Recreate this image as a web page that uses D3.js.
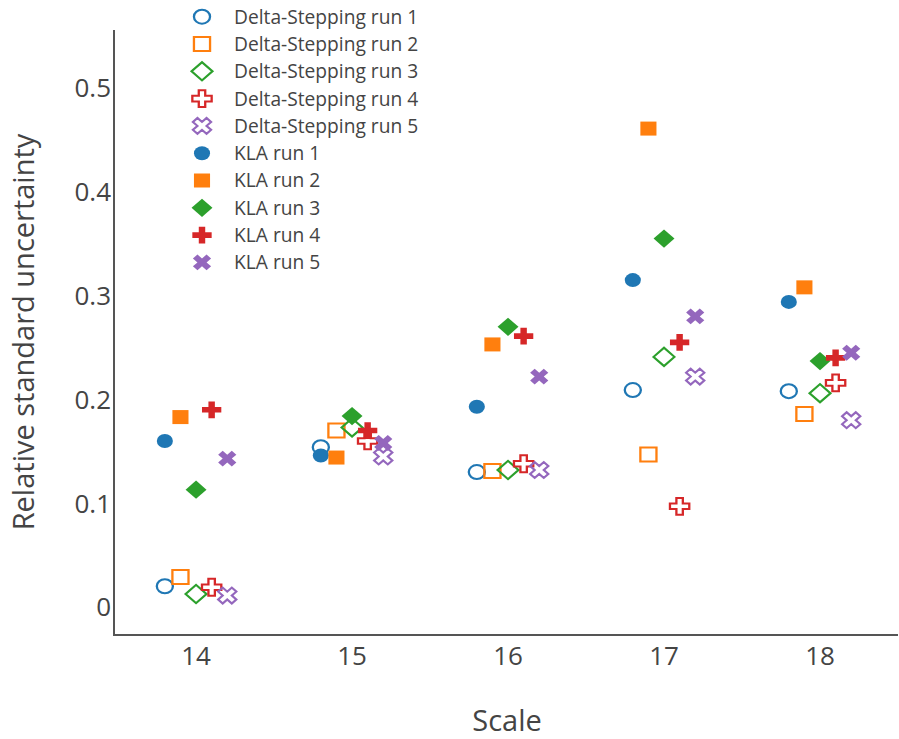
<!DOCTYPE html>
<html>
<head>
<meta charset="utf-8">
<script src="https://cdn.jsdelivr.net/npm/d3@7"></script>
<style>
    body { margin: 0; background: #fff; }
    svg { display: block; font-family: 'Open Sans', sans-serif; }
</style>
</head>
<body>
<svg id="chart" width="899" height="739"></svg>
<script>
'use strict';

// scales on the x axis
const scales = [14, 15, 16, 17, 18];

// relative standard uncertainty, one list per run
const deltaRun1 = [0.020, 0.154, 0.130, 0.209, 0.208];
const deltaRun2 = [0.029, 0.170, 0.131, 0.147, 0.186];
const deltaRun3 = [0.0125, 0.173, 0.132, 0.241, 0.206];
const deltaRun4 = [0.019, 0.160, 0.138, 0.097, 0.216];
const deltaRun5 = [0.011, 0.145, 0.132, 0.222, 0.180];
const klaRun1 = [0.160, 0.146, 0.193, 0.315, 0.294];
const klaRun2 = [0.183, 0.144, 0.253, 0.461, 0.308];
const klaRun3 = [0.113, 0.184, 0.270, 0.355, 0.237];
const klaRun4 = [0.190, 0.170, 0.261, 0.255, 0.240];
const klaRun5 = [0.143, 0.158, 0.222, 0.280, 0.245];

const yTicks = [0, 0.1, 0.2, 0.3, 0.4, 0.5];
const runOffsets = [-0.2, -0.1, 0, 0.1, 0.2];
const colors = ['#1f77b4', '#ff7f0e', '#2ca02c', '#d62728', '#9467bd'];
const shapes = ['circle', 'square', 'diamond', 'cross', 'x'];

const series = [
    {name: 'Delta-Stepping run 1', values: deltaRun1, run: 0, open: true},
    {name: 'Delta-Stepping run 2', values: deltaRun2, run: 1, open: true},
    {name: 'Delta-Stepping run 3', values: deltaRun3, run: 2, open: true},
    {name: 'Delta-Stepping run 4', values: deltaRun4, run: 3, open: true},
    {name: 'Delta-Stepping run 5', values: deltaRun5, run: 4, open: true},
    {name: 'KLA run 1', values: klaRun1, run: 0, open: false},
    {name: 'KLA run 2', values: klaRun2, run: 1, open: false},
    {name: 'KLA run 3', values: klaRun3, run: 2, open: false},
    {name: 'KLA run 4', values: klaRun4, run: 3, open: false},
    {name: 'KLA run 5', values: klaRun5, run: 4, open: false}
];

// marker outlines in the plotly manner
const symbolPath = (shape, r) => {
    if (shape === 'circle') {
        return `M${r},0A${r},${r} 0 1,1 0,-${r}A${r},${r} 0 0,1 ${r},0Z`;
    }
    if (shape === 'square') {
        return `M${r},${r}H-${r}V-${r}H${r}Z`;
    }
    if (shape === 'diamond') {
        const rd = r * 1.3;
        return `M${rd},0L0,${rd}L-${rd},0L0,-${rd}Z`;
    }
    if (shape === 'cross') {
        const rc = r * 0.4;
        const rc2 = r * 1.2;
        return `M${rc2},${rc}H${rc}V${rc2}H-${rc}V${rc}H-${rc2}V-${rc}H-${rc}V-${rc2}H${rc}V-${rc}H${rc2}Z`;
    }
    const rx = r * 0.8 / Math.SQRT2;
    const ne = `l${rx},${rx}`;
    const se = `l${rx},-${rx}`;
    const sw = `l-${rx},-${rx}`;
    const nw = `l-${rx},${rx}`;
    return `M0,${rx}` + ne + se + sw + se + sw + nw + sw + nw + ne + nw + ne + 'Z';
};

const vis = d3.select('#chart');

const x = d3.scaleLinear().domain([13.474, 18.5]).range([114, 898]);
const y = d3.scaleLinear().domain([-0.027, 0.556]).range([635, 30]);

const textColor = '#444';
const markerR = 7;
const stretch = 'scale(1.15,1)';

// y tick labels
vis.append('g')
    .selectAll('text')
    .data(yTicks)
    .enter().append('text')
    .attr('x', 111)
    .attr('y', d => y(d))
    .attr('dy', '0.36em')
    .attr('text-anchor', 'end')
    .attr('font-size', 26)
    .attr('fill', textColor)
    .text(d => d === 0 ? '0' : d3.format('.1f')(d));

// x tick labels
vis.append('g')
    .selectAll('text')
    .data(scales)
    .enter().append('text')
    .attr('x', d => x(d))
    .attr('y', 665)
    .attr('text-anchor', 'middle')
    .attr('font-size', 26)
    .attr('fill', textColor)
    .text(d => d);

// axis lines
vis.append('line')
    .attr('x1', 114).attr('x2', 114)
    .attr('y1', y.range()[1]).attr('y2', y.range()[0])
    .attr('stroke', '#555').attr('stroke-width', 2);
vis.append('line')
    .attr('x1', 113).attr('x2', x.range()[1])
    .attr('y1', 635).attr('y2', 635)
    .attr('stroke', '#555').attr('stroke-width', 2);

// axis titles
vis.append('text')
    .attr('x', 507)
    .attr('y', 731)
    .attr('text-anchor', 'middle')
    .attr('font-size', 29)
    .attr('fill', textColor)
    .text('Scale');
vis.append('text')
    .attr('transform', 'translate(34,332) rotate(-90)')
    .attr('text-anchor', 'middle')
    .attr('font-size', 29)
    .attr('fill', textColor)
    .text('Relative standard uncertainty');

const styleMarker = (sel) => sel
    .attr('d', d => symbolPath(shapes[d.run], markerR))
    .attr('fill', d => d.open ? 'none' : colors[d.run])
    .attr('stroke', d => colors[d.run])
    .attr('stroke-width', d => d.open ? 2 : 0);

// points
const traces = vis.append('g')
    .selectAll('g')
    .data(series)
    .enter().append('g');

traces.selectAll('path')
    .data(s => s.values.map((v, i) => ({scale: scales[i], value: v, run: s.run, open: s.open})))
    .enter().append('path')
    .attr('transform', d => `translate(${x(d.scale + runOffsets[d.run])},${y(d.value)}) ${stretch}`)
    .call(styleMarker);

// legend
const legend = vis.append('g')
    .selectAll('g')
    .data(series)
    .enter().append('g')
    .attr('transform', (d, i) => `translate(0,${16.7 + i * 27.3})`);

legend.append('path')
    .attr('transform', `translate(202,0) ${stretch}`)
    .call(styleMarker);

legend.append('text')
    .attr('x', 234)
    .attr('dy', '0.36em')
    .attr('font-size', 19.2)
    .attr('fill', textColor)
    .text(d => d.name);
</script>
</body>
</html>
